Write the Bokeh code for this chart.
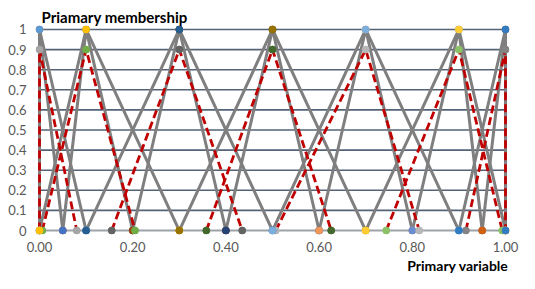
from bokeh.plotting import figure
from bokeh.models import Range1d, FixedTicker, NumeralTickFormatter, Title
from bokeh.embed import file_html
from bokeh.resources import INLINE

# ---- data ----
peak_x = [0.0, 0.1, 0.3, 0.5, 0.7, 0.9, 1.0]
upper_peak = 1.0
lower_peak = 0.9
wide_left = [0.0, 0.0, 0.1, 0.3, 0.5, 0.7, 0.9]
wide_right = [0.1, 0.3, 0.5, 0.7, 0.9, 1.0, 1.0]
narrow_left = [0.0, 0.05, 0.2, 0.4, 0.6, 0.8, 0.95]
narrow_right = [0.05, 0.2, 0.4, 0.6, 0.8, 0.95, 1.0]
lower_left = [0.0, 0.006, 0.155, 0.358, 0.507, 0.744, 0.915]
lower_right = [0.08, 0.205, 0.435, 0.626, 0.815, 0.993, 1.0]

x_ticks = [0.0, 0.2, 0.4, 0.6, 0.8, 1.0]
y_ticks = [0.0, 0.1, 0.2, 0.3, 0.4, 0.5, 0.6, 0.7, 0.8, 0.9, 1.0]

palette = ["#5B9BD5", "#ED7D31", "#A5A5A5", "#FFC000", "#4472C4", "#70AD47",
           "#255E91", "#9E480E", "#636363", "#997300", "#264478", "#43682B",
           "#7CAFDD", "#F1975A", "#B7B7B7", "#FFCD33", "#698ED0", "#8CC168",
           "#327DC2", "#D26012", "#848484"]

pad_x = 4 / 466
pad_y = 4 / 202

p = figure(width=519, height=273, output_backend="svg", toolbar_location=None,
           x_range=Range1d(-pad_x, 1 + pad_x), y_range=Range1d(-pad_y, 1 + pad_y),
           min_border_left=35, min_border_right=10, min_border_top=25,
           min_border_bottom=0)
p.xgrid.visible = False
p.ygrid.visible = False
p.outline_line_color = None
p.background_fill_color = "white"
p.border_fill_color = "white"

# gridlines
grid_y = [v for v in y_ticks if v > 0]
p.segment(x0=[0] * len(grid_y), x1=[1] * len(grid_y), y0=grid_y, y1=grid_y,
          line_color="#556377", line_width=1.6)
p.segment(x0=[0], x1=[1], y0=[0], y1=[0], line_color="#9EA3AA", line_width=2)

# axes
for ax in (p.xaxis, p.yaxis):
    ax.axis_line_color = None
    ax.major_tick_line_color = None
    ax.minor_tick_line_color = None
    ax.major_tick_out = 0
    ax.major_tick_in = 0
    ax.major_label_text_font = "Lato"
    ax.major_label_text_font_size = "13px"
    ax.major_label_text_color = "#595959"
p.xaxis.ticker = FixedTicker(ticks=x_ticks)
p.xaxis.formatter = NumeralTickFormatter(format="0.00")
p.xaxis.major_label_standoff = 7
p.yaxis.ticker = FixedTicker(ticks=y_ticks)
p.yaxis.formatter = NumeralTickFormatter(format="0.[0]")
p.yaxis.major_label_standoff = 9

# upper membership functions (grey)
for i in range(len(peak_x)):
    p.line([narrow_left[i], peak_x[i], narrow_right[i]], [0, upper_peak, 0],
           line_color="#7F7F7F", line_width=3)
    p.line([wide_left[i], peak_x[i], wide_right[i]], [0, upper_peak, 0],
           line_color="#7F7F7F", line_width=3)
# lower membership functions (red dashed)
for i in range(len(peak_x)):
    p.line([lower_left[i], peak_x[i], lower_right[i]], [0, lower_peak, 0],
           line_color="#C00000", line_width=2.8, line_dash="8 4")

# markers
def add_markers(xl, xp, xr, h, offset):
    for i in range(len(xp)):
        c = palette[3 * i + offset]
        p.scatter([xl[i], xp[i], xr[i]], [0, h, 0], size=7,
                  fill_color=c, line_color=c)

add_markers(narrow_left, peak_x, narrow_right, upper_peak, 1)
add_markers(lower_left, peak_x, lower_right, lower_peak, 2)
add_markers(wide_left, peak_x, wide_right, upper_peak, 0)

p.add_layout(Title(text="Priamary membership", align="left", offset=6, standoff=0,
                   text_font="Lato", text_font_style="bold", text_font_size="15px",
                   text_color="black"), "above")
p.add_layout(Title(text="Primary variable", align="right", offset=1, standoff=0,
                   text_font="Lato", text_font_style="bold", text_font_size="14px",
                   text_color="black"), "below")

open("out.html", "w").write(file_html(p, INLINE))
